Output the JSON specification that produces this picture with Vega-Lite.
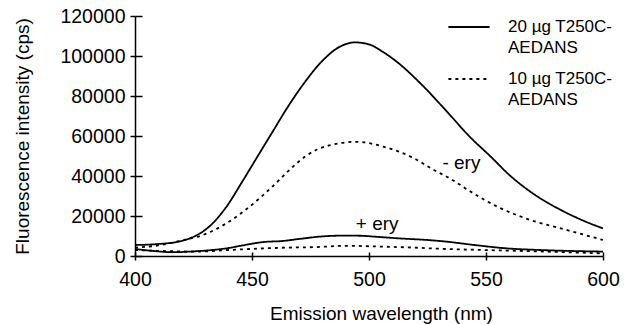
{
  "$schema": "https://vega.github.io/schema/vega-lite/v6.json",
  "width": 468,
  "height": 240,
  "autosize": {"type": "none"},
  "padding": {"left": 135, "top": 16, "right": 21, "bottom": 68},
  "background": "white",
  "config": {
    "view": {"stroke": null},
    "font": "Liberation Sans",
    "style": {"guide-label": {"lineHeight": 21}}
  },
  "datasets": {
    "spectra": [
      {"sample": "20 µg T250C-AEDANS", "condition": "- ery", "wavelength": 400, "intensity": 5500},
      {"sample": "20 µg T250C-AEDANS", "condition": "- ery", "wavelength": 410, "intensity": 6000},
      {"sample": "20 µg T250C-AEDANS", "condition": "- ery", "wavelength": 419, "intensity": 7300},
      {"sample": "20 µg T250C-AEDANS", "condition": "- ery", "wavelength": 425, "intensity": 9600},
      {"sample": "20 µg T250C-AEDANS", "condition": "- ery", "wavelength": 432, "intensity": 15000},
      {"sample": "20 µg T250C-AEDANS", "condition": "- ery", "wavelength": 439, "intensity": 24500},
      {"sample": "20 µg T250C-AEDANS", "condition": "- ery", "wavelength": 446, "intensity": 37500},
      {"sample": "20 µg T250C-AEDANS", "condition": "- ery", "wavelength": 453, "intensity": 51000},
      {"sample": "20 µg T250C-AEDANS", "condition": "- ery", "wavelength": 459, "intensity": 62500},
      {"sample": "20 µg T250C-AEDANS", "condition": "- ery", "wavelength": 465, "intensity": 74000},
      {"sample": "20 µg T250C-AEDANS", "condition": "- ery", "wavelength": 472, "intensity": 86000},
      {"sample": "20 µg T250C-AEDANS", "condition": "- ery", "wavelength": 480, "intensity": 97500},
      {"sample": "20 µg T250C-AEDANS", "condition": "- ery", "wavelength": 487, "intensity": 104300},
      {"sample": "20 µg T250C-AEDANS", "condition": "- ery", "wavelength": 494, "intensity": 106800},
      {"sample": "20 µg T250C-AEDANS", "condition": "- ery", "wavelength": 500, "intensity": 105800},
      {"sample": "20 µg T250C-AEDANS", "condition": "- ery", "wavelength": 506, "intensity": 102000},
      {"sample": "20 µg T250C-AEDANS", "condition": "- ery", "wavelength": 512, "intensity": 97000},
      {"sample": "20 µg T250C-AEDANS", "condition": "- ery", "wavelength": 522, "intensity": 86300},
      {"sample": "20 µg T250C-AEDANS", "condition": "- ery", "wavelength": 534, "intensity": 71300},
      {"sample": "20 µg T250C-AEDANS", "condition": "- ery", "wavelength": 543, "intensity": 59700},
      {"sample": "20 µg T250C-AEDANS", "condition": "- ery", "wavelength": 552, "intensity": 49700},
      {"sample": "20 µg T250C-AEDANS", "condition": "- ery", "wavelength": 560, "intensity": 40500},
      {"sample": "20 µg T250C-AEDANS", "condition": "- ery", "wavelength": 570, "intensity": 31300},
      {"sample": "20 µg T250C-AEDANS", "condition": "- ery", "wavelength": 582, "intensity": 23000},
      {"sample": "20 µg T250C-AEDANS", "condition": "- ery", "wavelength": 594, "intensity": 16500},
      {"sample": "20 µg T250C-AEDANS", "condition": "- ery", "wavelength": 600, "intensity": 13800},

      {"sample": "10 µg T250C-AEDANS", "condition": "- ery", "wavelength": 400, "intensity": 4200},
      {"sample": "10 µg T250C-AEDANS", "condition": "- ery", "wavelength": 410, "intensity": 5300},
      {"sample": "10 µg T250C-AEDANS", "condition": "- ery", "wavelength": 419, "intensity": 7500},
      {"sample": "10 µg T250C-AEDANS", "condition": "- ery", "wavelength": 429, "intensity": 10500},
      {"sample": "10 µg T250C-AEDANS", "condition": "- ery", "wavelength": 439, "intensity": 16300},
      {"sample": "10 µg T250C-AEDANS", "condition": "- ery", "wavelength": 449, "intensity": 24700},
      {"sample": "10 µg T250C-AEDANS", "condition": "- ery", "wavelength": 459, "intensity": 35000},
      {"sample": "10 µg T250C-AEDANS", "condition": "- ery", "wavelength": 466, "intensity": 43000},
      {"sample": "10 µg T250C-AEDANS", "condition": "- ery", "wavelength": 473, "intensity": 50000},
      {"sample": "10 µg T250C-AEDANS", "condition": "- ery", "wavelength": 483, "intensity": 55300},
      {"sample": "10 µg T250C-AEDANS", "condition": "- ery", "wavelength": 495, "intensity": 57100},
      {"sample": "10 µg T250C-AEDANS", "condition": "- ery", "wavelength": 506, "intensity": 54700},
      {"sample": "10 µg T250C-AEDANS", "condition": "- ery", "wavelength": 519, "intensity": 49000},
      {"sample": "10 µg T250C-AEDANS", "condition": "- ery", "wavelength": 527, "intensity": 43500},
      {"sample": "10 µg T250C-AEDANS", "condition": "- ery", "wavelength": 535, "intensity": 38500},
      {"sample": "10 µg T250C-AEDANS", "condition": "- ery", "wavelength": 543, "intensity": 32500},
      {"sample": "10 µg T250C-AEDANS", "condition": "- ery", "wavelength": 556, "intensity": 24000},
      {"sample": "10 µg T250C-AEDANS", "condition": "- ery", "wavelength": 569, "intensity": 18000},
      {"sample": "10 µg T250C-AEDANS", "condition": "- ery", "wavelength": 582, "intensity": 13800},
      {"sample": "10 µg T250C-AEDANS", "condition": "- ery", "wavelength": 596, "intensity": 9300},
      {"sample": "10 µg T250C-AEDANS", "condition": "- ery", "wavelength": 600, "intensity": 8000},

      {"sample": "20 µg T250C-AEDANS", "condition": "+ ery", "wavelength": 400, "intensity": 3500},
      {"sample": "20 µg T250C-AEDANS", "condition": "+ ery", "wavelength": 408, "intensity": 2500},
      {"sample": "20 µg T250C-AEDANS", "condition": "+ ery", "wavelength": 416, "intensity": 1900},
      {"sample": "20 µg T250C-AEDANS", "condition": "+ ery", "wavelength": 425, "intensity": 2300},
      {"sample": "20 µg T250C-AEDANS", "condition": "+ ery", "wavelength": 433, "intensity": 3000},
      {"sample": "20 µg T250C-AEDANS", "condition": "+ ery", "wavelength": 440, "intensity": 4000},
      {"sample": "20 µg T250C-AEDANS", "condition": "+ ery", "wavelength": 446, "intensity": 5300},
      {"sample": "20 µg T250C-AEDANS", "condition": "+ ery", "wavelength": 455, "intensity": 7000},
      {"sample": "20 µg T250C-AEDANS", "condition": "+ ery", "wavelength": 463, "intensity": 7500},
      {"sample": "20 µg T250C-AEDANS", "condition": "+ ery", "wavelength": 470, "intensity": 8500},
      {"sample": "20 µg T250C-AEDANS", "condition": "+ ery", "wavelength": 479, "intensity": 9700},
      {"sample": "20 µg T250C-AEDANS", "condition": "+ ery", "wavelength": 490, "intensity": 10200},
      {"sample": "20 µg T250C-AEDANS", "condition": "+ ery", "wavelength": 497, "intensity": 10100},
      {"sample": "20 µg T250C-AEDANS", "condition": "+ ery", "wavelength": 502, "intensity": 9700},
      {"sample": "20 µg T250C-AEDANS", "condition": "+ ery", "wavelength": 513, "intensity": 8800},
      {"sample": "20 µg T250C-AEDANS", "condition": "+ ery", "wavelength": 525, "intensity": 8000},
      {"sample": "20 µg T250C-AEDANS", "condition": "+ ery", "wavelength": 533, "intensity": 7200},
      {"sample": "20 µg T250C-AEDANS", "condition": "+ ery", "wavelength": 545, "intensity": 5500},
      {"sample": "20 µg T250C-AEDANS", "condition": "+ ery", "wavelength": 559, "intensity": 3800},
      {"sample": "20 µg T250C-AEDANS", "condition": "+ ery", "wavelength": 573, "intensity": 3000},
      {"sample": "20 µg T250C-AEDANS", "condition": "+ ery", "wavelength": 587, "intensity": 2500},
      {"sample": "20 µg T250C-AEDANS", "condition": "+ ery", "wavelength": 600, "intensity": 2200},

      {"sample": "10 µg T250C-AEDANS", "condition": "+ ery", "wavelength": 400, "intensity": 3000},
      {"sample": "10 µg T250C-AEDANS", "condition": "+ ery", "wavelength": 412, "intensity": 2500},
      {"sample": "10 µg T250C-AEDANS", "condition": "+ ery", "wavelength": 426, "intensity": 2200},
      {"sample": "10 µg T250C-AEDANS", "condition": "+ ery", "wavelength": 440, "intensity": 3000},
      {"sample": "10 µg T250C-AEDANS", "condition": "+ ery", "wavelength": 455, "intensity": 3800},
      {"sample": "10 µg T250C-AEDANS", "condition": "+ ery", "wavelength": 465, "intensity": 4200},
      {"sample": "10 µg T250C-AEDANS", "condition": "+ ery", "wavelength": 476, "intensity": 4400},
      {"sample": "10 µg T250C-AEDANS", "condition": "+ ery", "wavelength": 490, "intensity": 5100},
      {"sample": "10 µg T250C-AEDANS", "condition": "+ ery", "wavelength": 505, "intensity": 4700},
      {"sample": "10 µg T250C-AEDANS", "condition": "+ ery", "wavelength": 519, "intensity": 4200},
      {"sample": "10 µg T250C-AEDANS", "condition": "+ ery", "wavelength": 533, "intensity": 3500},
      {"sample": "10 µg T250C-AEDANS", "condition": "+ ery", "wavelength": 549, "intensity": 3000},
      {"sample": "10 µg T250C-AEDANS", "condition": "+ ery", "wavelength": 566, "intensity": 2500},
      {"sample": "10 µg T250C-AEDANS", "condition": "+ ery", "wavelength": 587, "intensity": 1800},
      {"sample": "10 µg T250C-AEDANS", "condition": "+ ery", "wavelength": 600, "intensity": 1300}
    ],
    "notes": [
      {"label": "- ery", "wavelength": 539.5, "intensity": 43700},
      {"label": "+ ery", "wavelength": 503.5, "intensity": 12800}
    ]
  },
  "layer": [
    {
      "data": {"name": "spectra"},
      "mark": {"type": "line", "interpolate": "monotone", "color": "black", "strokeWidth": 1.8},
      "encoding": {
        "x": {
          "field": "wavelength", "type": "quantitative",
          "scale": {"domain": [400, 600], "nice": false, "zero": false},
          "axis": {
            "orient": "bottom", "title": "Emission wavelength (nm)",
            "values": [400, 450, 500, 550, 600], "format": "d", "grid": false,
            "domainColor": "black", "domainWidth": 1.5, "tickColor": "black", "tickWidth": 1.5,
            "tickSize": 4, "labelFontSize": 19.5, "labelColor": "black", "labelPadding": 10,
            "labelFlush": false, "labelOverlap": false,
            "titleFontSize": 19, "titleFontWeight": "normal", "titleColor": "black", "titlePadding": 16,
            "titleX": 246, "titleAlign": "center", "titleAnchor": null
          }
        },
        "y": {
          "field": "intensity", "type": "quantitative",
          "scale": {"domain": [0, 120000], "nice": false},
          "axis": {
            "orient": "left", "title": "Fluorescence intensity (cps)",
            "values": [0, 20000, 40000, 60000, 80000, 100000, 120000], "format": "d", "grid": false,
            "domainColor": "black", "domainWidth": 1.5, "tickColor": "black", "tickWidth": 1.5,
            "tickSize": 5, "labelFontSize": 19.5, "labelColor": "black", "labelPadding": 5,
            "labelFlush": false, "labelOverlap": false,
            "titleFontSize": 19, "titleFontWeight": "normal", "titleColor": "black", "titlePadding": 27
          }
        },
        "strokeDash": {
          "field": "sample", "type": "nominal",
          "scale": {"domain": ["20 µg T250C-AEDANS", "10 µg T250C-AEDANS"], "range": [[1, 0], [3, 4]]},
          "legend": {
            "orient": "none", "legendX": 312, "legendY": -11, "direction": "vertical",
            "title": null, "symbolType": "stroke", "symbolSize": 1700, "symbolStrokeWidth": 1.8,
            "symbolStrokeColor": "black", "labelFontSize": 17, "labelColor": "black",
            "labelExpr": "[slice(datum.label, 0, 12), slice(datum.label, 12)]",
            "labelOffset": 17, "rowPadding": 1, "labelLimit": 300
          }
        },
        "detail": {"field": "condition", "type": "nominal"}
      }
    },
    {
      "data": {"name": "notes"},
      "mark": {"type": "text", "fontSize": 19, "color": "black", "baseline": "alphabetic", "align": "center"},
      "encoding": {
        "x": {
          "field": "wavelength", "type": "quantitative",
          "scale": {"domain": [400, 600], "nice": false, "zero": false},
          "axis": {
            "orient": "bottom", "title": null, "values": [400, 450, 500, 550, 600],
            "labels": false, "domain": false, "grid": false,
            "tickColor": "black", "tickWidth": 1.5, "tickSize": -4
          }
        },
        "y": {
          "field": "intensity", "type": "quantitative",
          "scale": {"domain": [0, 120000], "nice": false},
          "axis": {
            "orient": "left", "title": null,
            "values": [0, 20000, 40000, 60000, 80000, 100000, 120000],
            "labels": false, "domain": false, "grid": false,
            "tickColor": "black", "tickWidth": 1.5, "tickSize": -7
          }
        },
        "text": {"field": "label"}
      }
    }
  ],
  "resolve": {
    "scale": {"x": "independent", "y": "independent", "strokeDash": "independent"},
    "axis": {"x": "independent", "y": "independent"}
  }
}
